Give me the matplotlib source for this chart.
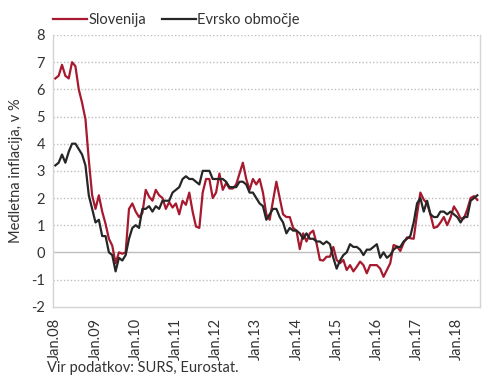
import matplotlib
matplotlib.use("Agg")
import matplotlib.pyplot as plt
import numpy as np

# Monthly data, Jan 2008 - Jul 2018
start_year = 2008
slovenija = [
    6.4, 6.5, 6.9, 6.5, 6.4, 7.0, 6.85, 6.0, 5.5, 4.9, 3.4, 2.1,      # 2008
    1.6, 2.1, 1.5, 1.05, 0.5, 0.25, -0.4, 0.0, -0.05, 0.0, 1.6, 1.8,  # 2009
    1.5, 1.3, 1.45, 2.3, 2.05, 1.9, 2.3, 2.1, 2.0, 1.6, 1.85, 1.65,   # 2010
    1.8, 1.4, 1.9, 1.75, 2.2, 1.5, 0.95, 0.9, 2.2, 2.7, 2.7, 2.0,     # 2011
    2.2, 2.9, 2.3, 2.55, 2.35, 2.35, 2.5, 2.9, 3.3, 2.7, 2.3, 2.7,    # 2012
    2.5, 2.7, 2.2, 1.4, 1.2, 1.9, 2.6, 2.0, 1.4, 1.3, 1.3, 0.9,       # 2013
    0.8, 0.12, 0.7, 0.4, 0.7, 0.8, 0.33, -0.28, -0.3, -0.16, -0.16, 0.2,   # 2014
    -0.28, -0.4, -0.28, -0.65, -0.47, -0.7, -0.53, -0.34, -0.47, -0.77, -0.47, -0.47,  # 2015
    -0.47, -0.6, -0.9, -0.65, -0.4, 0.27, 0.22, 0.05, 0.35, 0.55, 0.52, 0.5,  # 2016
    1.4, 2.2, 1.94, 1.8, 1.4, 0.9, 0.94, 1.1, 1.3, 1.0, 1.28, 1.69,   # 2017
    1.5, 1.25, 1.25, 1.58, 2.0, 2.07, 1.93,                           # 2018
]
evrsko_obmocje = [
    3.2, 3.3, 3.6, 3.3, 3.7, 4.0, 4.0, 3.8, 3.6, 3.2, 2.1, 1.6,       # 2008
    1.1, 1.2, 0.6, 0.6, 0.0, -0.1, -0.7, -0.2, -0.3, -0.1, 0.5, 0.9,  # 2009
    1.0, 0.9, 1.6, 1.6, 1.7, 1.5, 1.7, 1.6, 1.9, 1.9, 1.9, 2.2,       # 2010
    2.3, 2.4, 2.7, 2.8, 2.7, 2.7, 2.6, 2.5, 3.0, 3.0, 3.0, 2.7,       # 2011
    2.7, 2.7, 2.7, 2.6, 2.4, 2.4, 2.4, 2.6, 2.6, 2.5, 2.2, 2.2,       # 2012
    2.0, 1.8, 1.7, 1.2, 1.4, 1.6, 1.6, 1.3, 1.1, 0.7, 0.9, 0.8,       # 2013
    0.8, 0.7, 0.5, 0.7, 0.5, 0.5, 0.4, 0.4, 0.3, 0.4, 0.3, -0.2,      # 2014
    -0.6, -0.3, -0.1, 0.0, 0.3, 0.2, 0.2, 0.1, -0.1, 0.1, 0.1, 0.2,   # 2015
    0.3, -0.2, 0.0, -0.2, -0.1, 0.1, 0.2, 0.2, 0.4, 0.5, 0.6, 1.1,    # 2016
    1.8, 2.0, 1.5, 1.9, 1.4, 1.3, 1.3, 1.5, 1.5, 1.4, 1.5, 1.4,       # 2017
    1.3, 1.1, 1.3, 1.3, 1.9, 2.0, 2.1,                                # 2018
]
tick_labels = ["Jan.08", "Jan.09", "Jan.10", "Jan.11", "Jan.12", "Jan.13",
               "Jan.14", "Jan.15", "Jan.16", "Jan.17", "Jan.18"]
y_ticks = [-2, -1, 0, 1, 2, 3, 4, 5, 6, 7, 8]

plt.rcParams['font.family'] = ['Lato', 'DejaVu Sans']
TXT = '#333333'
RED = '#A6192E'
BLK = '#262626'
GRID = '#BDBDBD'

fig = plt.figure(figsize=(4.9, 3.81), dpi=100)
ax = fig.add_axes([53.3 / 490, 1 - 306.7 / 381, (480 - 53.3) / 490, (306.7 - 35) / 381])

x = np.arange(len(slovenija))
ax.plot(x, slovenija, color=RED, lw=1.6, label="Slovenija", zorder=3)
ax.plot(x, evrsko_obmocje, color=BLK, lw=1.6, label="Evrsko območje", zorder=4)

ax.set_xlim(-0.6, 126.8)
ax.set_ylim(-2, 8)
ax.set_yticks(y_ticks)
ax.set_yticklabels([str(v) for v in y_ticks], fontsize=10.5, color=TXT)
ax.set_xticks(np.arange(len(tick_labels)) * 12)
ax.set_xticklabels(tick_labels, rotation=90, fontsize=10.5, color=TXT)
ax.tick_params(length=0, pad=6)
ax.tick_params(axis='x', pad=8)

for v in y_ticks:
    if v == 0:
        ax.axhline(v, color=GRID, lw=1.0, zorder=1)
    elif v != -2:
        ax.axhline(v, color=GRID, lw=1.0, ls=(0, (1, 1.5)), zorder=1)

for s in ['left', 'bottom', 'right']:
    ax.spines[s].set_color('#D4D4D4')
    ax.spines[s].set_linewidth(1.0)
ax.spines['top'].set_visible(False)

ax.set_ylabel("Medletna inflacija, v %", fontsize=10.5, color=TXT, labelpad=6)

leg = ax.legend(loc='lower left', bbox_to_anchor=(0.0, 1.03), ncol=2, frameon=False,
                fontsize=10.5, handlelength=2.3, handletextpad=0.1,
                columnspacing=1.1, borderaxespad=0, borderpad=0)
for t in leg.get_texts():
    t.set_color(TXT)

fig.text(47 / 490, 1 - 368 / 381, "Vir podatkov: SURS, Eurostat.", fontsize=10.5,
         color=TXT, va='center', ha='left')

fig.savefig("out.png", dpi=100)
